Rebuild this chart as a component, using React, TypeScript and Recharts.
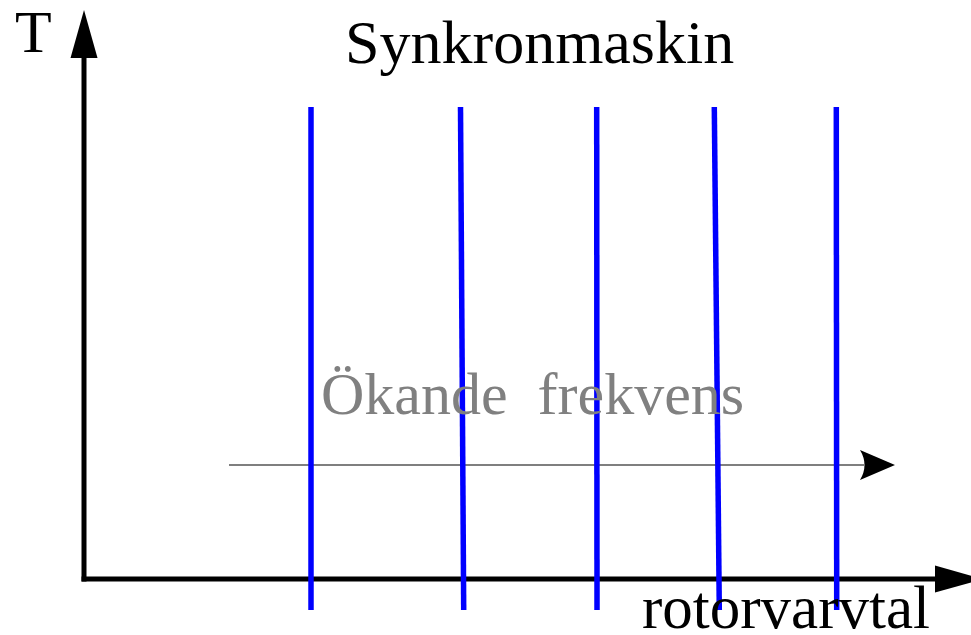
import React from "react";
import { ComposedChart, Line, Scatter, XAxis, YAxis } from "recharts";

// Arbitrary units: rotor speed (x) and torque T (y), origin at the axis corner
const speedsAtTop = [227, 376.5, 512.7, 630.3, 752.3];
const speedsAtBottom = [227, 379.7, 513, 635.3, 752.7];
const torqueTop = 472;
const torqueBottom = -31;

const xAxisLine = [
  { x: 0, y: 0 },
  { x: 851, y: 0 },
];
const yAxisLine = [
  { x: 0, y: 0 },
  { x: 0, y: 521 },
];
const freqArrowLine = [
  { x: 145, y: 114 },
  { x: 780, y: 114 },
];
const arrowHeads = [
  { x: 0, y: 569, dir: "up", kind: "axis" },
  { x: 899, y: 0, dir: "right", kind: "axis" },
  { x: 811, y: 114, dir: "right", kind: "freq" },
];
const labels = [
  { x: -69, y: 527, text: "T", color: "#000000", size: 60 },
  { x: 261, y: 516, text: "Synkronmaskin", color: "#000000", size: 62 },
  { x: 237, y: 165, text: "Ökande\u00a0\u00a0frekvens", color: "#808080", size: 60 },
  { x: 558, y: -49, text: "rotorvarvtal", color: "#000000", size: 61 },
];

const W = 971;
const H = 635;
const FONT = "'Liberation Serif', 'Times New Roman', serif";

const ArrowShape = (props: any) => {
  const { cx, cy, payload } = props;
  if (cx == null || cy == null) return null;
  if (payload.kind === "freq") {
    const len = 35;
    const hw = 15;
    const d = `M ${cx} ${cy} L ${cx - len} ${cy - hw} Q ${cx - len + 9} ${cy} ${cx - len} ${cy + hw} Z`;
    return <path d={d} fill="#000000" />;
  }
  const len = 48;
  const hw = 13.5;
  if (payload.dir === "up") {
    const d = `M ${cx} ${cy} L ${cx + hw} ${cy + len} L ${cx - hw} ${cy + len} Z`;
    return <path d={d} fill="#000000" />;
  }
  const d = `M ${cx} ${cy} L ${cx - len} ${cy - hw} L ${cx - len} ${cy + hw} Z`;
  return <path d={d} fill="#000000" />;
};

const LabelShape = (props: any) => {
  const { cx, cy, payload } = props;
  if (cx == null || cy == null) return null;
  return (
    <text
      x={cx}
      y={cy}
      fill={payload.color}
      fontSize={payload.size}
      fontFamily={FONT}
      textAnchor="start"
    >
      {payload.text}
    </text>
  );
};

export default function App() {
  return (
    <div style={{ position: "absolute", left: 0, top: 0, width: W, height: H, background: "#ffffff" }}>
      <ComposedChart width={W} height={H} margin={{ top: 0, right: 0, bottom: 0, left: 0 }}>
        <XAxis type="number" dataKey="x" domain={[-84, 887]} allowDataOverflow hide />
        <YAxis type="number" dataKey="y" domain={[-56, 579]} allowDataOverflow hide />
        <Scatter
          data={labels}
          dataKey="y"
          shape={LabelShape}
          isAnimationActive={false}
          legendType="none"
        />
        <Line
          data={xAxisLine}
          dataKey="y"
          stroke="#000000"
          strokeWidth={5}
          strokeLinecap="square"
          dot={false}
          activeDot={false}
          isAnimationActive={false}
        />
        <Line
          data={yAxisLine}
          dataKey="y"
          stroke="#000000"
          strokeWidth={5}
          strokeLinecap="square"
          dot={false}
          activeDot={false}
          isAnimationActive={false}
        />
        <Line
          data={freqArrowLine}
          dataKey="y"
          stroke="#7f7f7f"
          strokeWidth={2}
          dot={false}
          activeDot={false}
          isAnimationActive={false}
        />
        {speedsAtTop.map((s, i) => (
          <Line
            key={i}
            data={[
              { x: s, y: torqueTop },
              { x: speedsAtBottom[i], y: torqueBottom },
            ]}
            dataKey="y"
            stroke="#0000ff"
            strokeWidth={5.5}
            dot={false}
            activeDot={false}
            isAnimationActive={false}
          />
        ))}
        <Scatter
          data={arrowHeads}
          dataKey="y"
          shape={ArrowShape}
          isAnimationActive={false}
          legendType="none"
        />
      </ComposedChart>
    </div>
  );
}
